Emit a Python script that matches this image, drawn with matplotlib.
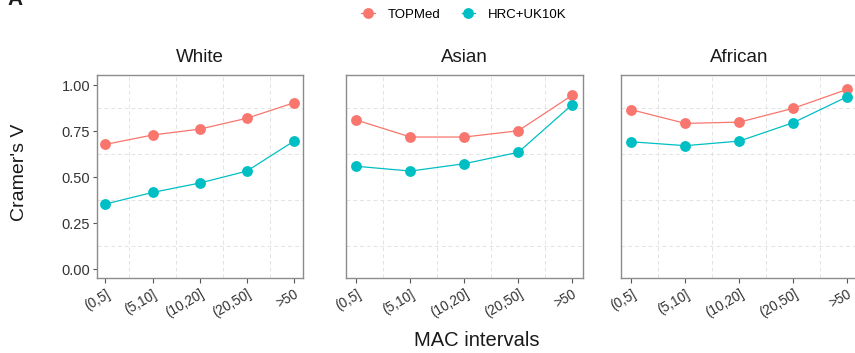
import matplotlib
matplotlib.use("Agg")
import matplotlib.pyplot as plt
from matplotlib.lines import Line2D

plt.rcParams['font.family'] = ['Liberation Sans', 'DejaVu Sans']

categories = ["(0,5]", "(5,10]", "(10,20]", "(20,50]", ">50"]
panels = ["White", "Asian", "African"]
series_names = ["TOPMed", "HRC+UK10K"]

topmed_white = [0.679, 0.730, 0.762, 0.821, 0.905]
hrc_white = [0.355, 0.418, 0.469, 0.534, 0.697]
topmed_asian = [0.811, 0.719, 0.719, 0.753, 0.946]
hrc_asian = [0.560, 0.534, 0.574, 0.636, 0.895]
topmed_african = [0.867, 0.793, 0.800, 0.875, 0.978]
hrc_african = [0.693, 0.672, 0.697, 0.797, 0.938]

yticks = [0.00, 0.25, 0.50, 0.75, 1.00]
ytick_labels = ["0.00", "0.25", "0.50", "0.75", "1.00"]

colors = ["#F8766D", "#00BFC4"]
data = [(topmed_white, hrc_white), (topmed_asian, hrc_asian), (topmed_african, hrc_african)]

W, H = 855, 353
fig = plt.figure(figsize=(W / 100, H / 100), dpi=100)

top_px, bot_px = 75, 278
ax_specs = [(97, 303), (345.7, 583), (620.7, 858)]
xlims = [(-0.18, 4.19), (-0.2, 4.2), (-0.2, 4.2)]

xpos = list(range(len(categories)))
axes = []
for i, ((l, r), name, (s1, s2)) in enumerate(zip(ax_specs, panels, data)):
    ax = fig.add_axes([l / W, 1 - bot_px / H, (r - l) / W, (bot_px - top_px) / H])
    axes.append(ax)
    ax.set_xlim(*xlims[i])
    ax.set_ylim(-0.047, 1.056)
    # dashed grid between major positions
    for gx in [0.5, 1.5, 2.5, 3.5]:
        ax.axvline(gx, color="#E3E3E3", lw=0.7, ls=(0, (4, 3)), zorder=0)
    for gy in [0.125, 0.375, 0.625, 0.875]:
        ax.axhline(gy, color="#E3E3E3", lw=0.7, ls=(0, (4, 3)), zorder=0)
    for vals, c in zip((s1, s2), colors):
        ax.plot(xpos, vals, color=c, lw=0.9, marker="o", markersize=7.8,
                markeredgewidth=0, zorder=3, clip_on=False)
    ax.set_title(name, fontsize=13.5, pad=9, color="#1A1A1A")
    ax.set_xticks(xpos)
    ax.set_xticklabels(categories, rotation=30, ha="right", rotation_mode="anchor",
                       fontsize=9.8, color="#333333")
    ax.tick_params(axis="x", length=3.5, width=0.8, color="#555555", pad=3)
    ax.set_yticks(yticks)
    if i == 0:
        ax.set_yticklabels(ytick_labels, fontsize=10.5, color="#333333")
        ax.tick_params(axis="y", length=3, width=0.8, color="#555555", pad=2)
    else:
        ax.tick_params(axis="y", length=0, labelleft=False)
    for sp in ax.spines.values():
        sp.set_color("#8C8C8C")
        sp.set_linewidth(1.0)

fig.text(20 / W, 1 - 172 / H, "Cramer's V", rotation=90, ha="center", va="center",
         fontsize=14, color="#1A1A1A")
fig.text(477 / W, 1 - 340 / H, "MAC intervals", ha="center", va="center",
         fontsize=14.5, color="#1A1A1A")
fig.text(7 / W, 1 - 5 / H, "A", ha="left", va="baseline", fontsize=15,
         fontweight="bold", color="#1A1A1A")

handles = [Line2D([0], [0], color=c, lw=0.9, marker="o", markersize=7.8,
                  markeredgewidth=0) for c in colors]
fig.legend(handles, series_names, loc="center", bbox_to_anchor=(464 / W, 1 - 15 / H),
           ncol=2, frameon=False, fontsize=9.5, handlelength=1.0, handletextpad=1.0,
           columnspacing=1.6)

fig.savefig("out.png", dpi=100)
